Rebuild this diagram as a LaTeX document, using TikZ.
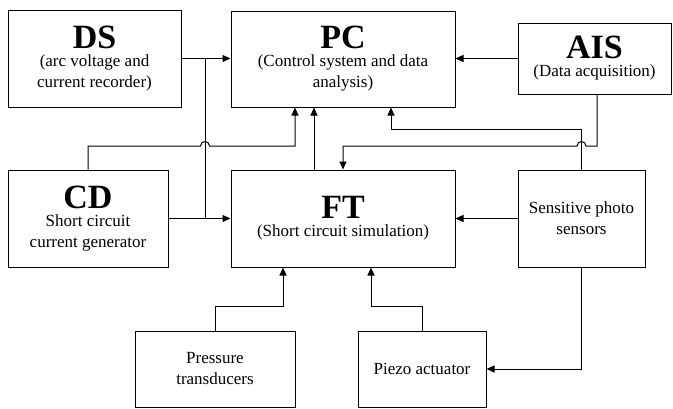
\documentclass[tikz,border=0pt]{standalone}
\usepackage{fontspec}
\setmainfont{Liberation Serif}
\usetikzlibrary{positioning}
\usetikzlibrary{arrows.meta}
\usetikzlibrary{calc}
\tikzset{block/.style={rectangle,draw,line width=1pt,align=center,inner sep=0pt,font=\fontsize{17}{21}\selectfont},}
\newcommand{\blocktitle}[1]{{\fontsize{34}{34}\selectfont\bfseries #1}}

\begin{document}
\begin{tikzpicture}[x=1pt, y=-1pt, ->, >={Triangle[length=8pt,width=7pt]}, line width=1pt]
	\useasboundingbox (0,0) rectangle (673,408);
	\node[block, minimum width=173pt, minimum height=97pt] (ds) at (94.5,58.5) {\blocktitle{DS}\\[-3pt](arc voltage and\\current recorder)};
	\node[block, minimum width=224pt, minimum height=96pt] (pc) at (343,59) {\blocktitle{PC}\\[-3pt](Control system and data\\analysis)};
	\node[block, minimum width=153pt, minimum height=71pt] (ais) at (594.5,58.5) {\blocktitle{AIS}\\[-3pt](Data acquisition)};
	\node[block, minimum width=160pt, minimum height=97pt] (cd) at (88,218.5) {\blocktitle{CD}\\[-3pt]Short circuit\\current generator};
	\node[block, minimum width=224pt, minimum height=97pt] (ft) at (343,218.5) {\blocktitle{FT}\\[-3pt](Short circuit simulation)};
	\node[block, minimum width=127pt, minimum height=97pt] (sen) at (581.5,218.5) {Sensitive photo\\sensors};
	\node[block, minimum width=160pt, minimum height=76pt] (pt) at (215,369) {Pressure\\transducers};
	\node[block, minimum width=128pt, minimum height=76pt] (pz) at (422,369) {Piezo actuator};

	\coordinate (j1) at (205,58.5);
	\coordinate (j2) at (205,218.5);

	% top row
	\draw (ds.east) -- (ds.east -| pc.west);
	\draw (ais.west) -- (ais.west -| pc.east);
	\draw[-] (j1) -- (j2);
	\draw (cd.north) |- (200.5,146) arc[start angle=180, end angle=360, radius=4.5] -| ([xshift=-48pt]pc.south);
	\draw ([xshift=-29pt]ft.north) -- ([xshift=-29pt]pc.south);
	\draw (sen.north) -- ++(0,-40) -| ([xshift=48pt]pc.south);
	\draw ([xshift=2.5pt]ais.south) |- (586,146) arc[start angle=0, end angle=-180, radius=4.5] -| (ft.north);

	% middle row
	\draw (cd.east) -- (cd.east -| ft.west);
	\draw (sen.west) -- (ft.east);

	% bottom row
	\draw (pt.north) -- ++(0,-24) -| ([xshift=-60pt]ft.south);
	\draw (pz.north) -- ++(0,-24) -| ([xshift=28pt]ft.south);
	\draw (sen.south) |- (pz.east);
\end{tikzpicture}
\end{document}
